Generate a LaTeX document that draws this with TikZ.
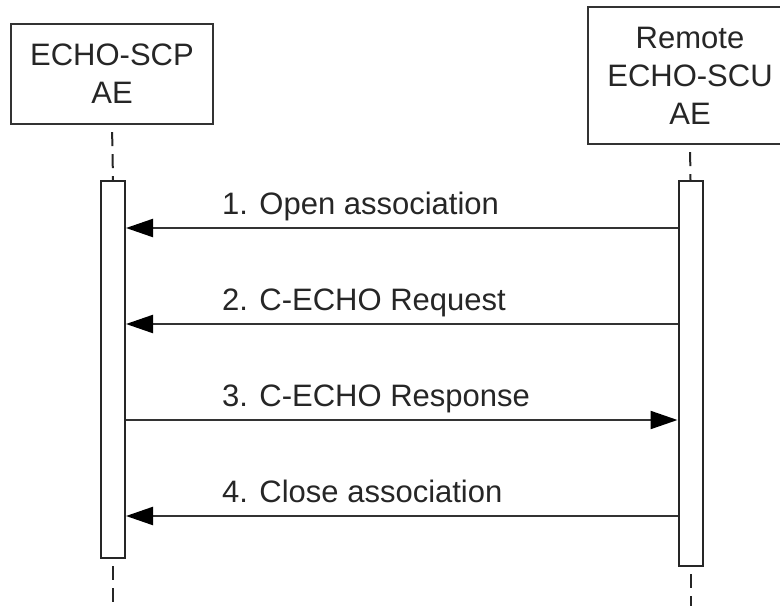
\documentclass[tikz,border=0pt]{standalone}
\usepackage{fontspec}
\setmainfont{Liberation Sans}
\usetikzlibrary{arrows.meta, positioning, calc}

\begin{document}
\begin{tikzpicture}[x=1pt, y=-1pt,
    every node/.style={font=\fontsize{31}{38}\selectfont, text=black!85},
    actor/.style={draw=black!80, line width=2.2pt, fill=white, align=center, inner sep=0pt},
    bar/.style={draw=black!85, line width=2pt, fill=white, minimum width=24pt, inner sep=0pt},
    life/.style={draw=black!85, line width=2pt, dash pattern=on 14pt off 8pt, dash phase=-7pt},
    msg/.style={draw=black!80, line width=2.2pt, -{Triangle[length=27pt, width=18pt, color=black]}},
    lbl/.style={anchor=base west, inner sep=0pt}]
    \useasboundingbox (0,0) rectangle (780,606);

    % Actors
    \node[actor, minimum width=202pt, minimum height=100pt] (scp) at (112,74) {ECHO-SCP\\AE};
    \node[actor, minimum width=204pt, minimum height=137pt] (scu) at (690,75.5) {Remote\\ECHO-SCU\\AE};

    % Activation bars
    \node[bar, minimum height=377pt] (scpbar) at (113,369.5) {};
    \node[bar, minimum height=385pt] (scubar) at (690.5,373.5) {};

    % Lifelines
    \coordinate (scpend) at (113,606);
    \coordinate (scuend) at (690.5,606);
    \draw[life] (scp.south) -- (scpbar.north);
    \draw[life] (scpbar.south) -- (scpend);
    \draw[life] (scu.south) -- (scubar.north);
    \draw[life] (scubar.south) -- (scuend);

    % Messages
    \draw[msg] ([yshift=-48pt]scubar.north west) -- ([yshift=-48pt]scpbar.north east)
        node[lbl] (m1) at (221,214) {1. Open association};
    \draw[msg] ([yshift=-144pt]scubar.north west) -- ([yshift=-144pt]scpbar.north east)
        node[lbl] (m2) at (221,310) {2. C-ECHO Request};
    \draw[msg] ([yshift=-240pt]scpbar.north east) -- ([yshift=-240pt]scubar.north west)
        node[lbl] (m3) at (221,406) {3. C-ECHO Response};
    \draw[msg] ([yshift=-336pt]scubar.north west) -- ([yshift=-336pt]scpbar.north east)
        node[lbl] (m4) at (221,502) {4. Close association};
\end{tikzpicture}
\end{document}
